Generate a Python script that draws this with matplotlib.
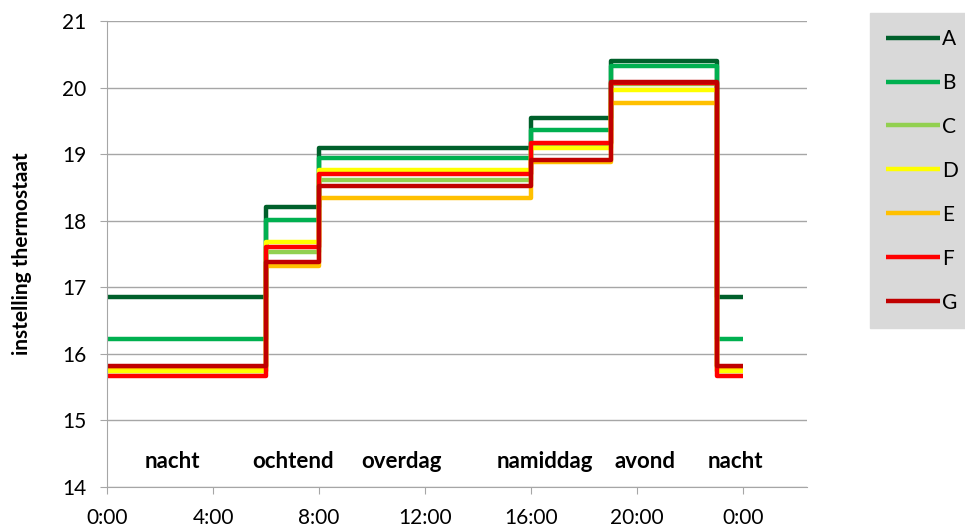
import matplotlib
matplotlib.use('Agg')
import matplotlib.pyplot as plt

# Thermostat settings per part of the day (hours)
times = [0, 6, 8, 16, 19, 23, 24]
labels = ['A', 'B', 'C', 'D', 'E', 'F', 'G']
colors = ['#00602b', '#00b050', '#92d050', '#ffff00', '#ffc000', '#ff0000', '#c00000']

# values: nacht, ochtend, overdag, namiddag, avond, nacht
A = [16.85, 18.20, 19.10, 19.54, 20.40, 16.85]
B = [16.22, 18.01, 18.94, 19.36, 20.33, 16.22]
C = [15.75, 17.53, 18.62, 19.15, 20.05, 15.75]
D = [15.75, 17.68, 18.76, 19.10, 19.96, 15.75]
E = [15.80, 17.32, 18.35, 18.88, 19.77, 15.80]
F = [15.67, 17.60, 18.71, 19.17, 20.07, 15.67]
G = [15.82, 17.38, 18.53, 18.92, 20.08, 15.82]
series = [A, B, C, D, E, F, G]

periods = ['nacht', 'ochtend', 'overdag', 'namiddag', 'avond', 'nacht']
period_x = [2.45, 7.0, 11.1, 16.5, 20.3, 23.7]

xticks = [0, 4, 8, 12, 16, 20, 24]
xticklabels = ['0:00', '4:00', '8:00', '12:00', '16:00', '20:00', '0:00']

plt.rcParams['font.family'] = ['Lato', 'DejaVu Sans']

fig = plt.figure(figsize=(9.65, 5.29), dpi=100)
ax = fig.add_axes([0.111, 0.0794, 0.725, 0.8806])

for vals, lab, col in zip(series, labels, colors):
    ax.step(times, vals + [vals[-1]], where='post', color=col, lw=3.2,
            label=lab, solid_joinstyle='round', solid_capstyle='butt')

for name, px in zip(periods, period_x):
    ax.text(px, 14.38, name, ha='center', va='center', fontsize=16, fontweight='bold')

ax.set_xlim(0, 26.4)
ax.set_ylim(14, 21)
ax.set_yticks(range(14, 22))
ax.set_xticks(xticks)
ax.set_xticklabels(xticklabels)
ax.grid(axis='y', color='#a6a6a6', lw=1)
ax.set_axisbelow(True)
for s in ['top', 'right']:
    ax.spines[s].set_visible(False)
for s in ['left', 'bottom']:
    ax.spines[s].set_color('#a6a6a6')
ax.tick_params(axis='both', colors='#a6a6a6', labelcolor='black', labelsize=15, length=5)
ax.tick_params(axis='x', pad=10)
ax.tick_params(axis='y', pad=10)
ax.set_ylabel('instelling thermostaat', fontsize=15, fontweight='bold')
ax.yaxis.set_label_coords(-0.108, 0.5)

fig.legend(loc='upper left', bbox_to_anchor=(0.9016, 0.975), frameon=True,
           facecolor='#d9d9d9', edgecolor='#d9d9d9', fancybox=False, framealpha=1,
           fontsize=15, labelspacing=1.15, handlelength=2.6, handletextpad=0.1,
           borderpad=0.75, borderaxespad=0)

fig.savefig('out.png', dpi=100)
